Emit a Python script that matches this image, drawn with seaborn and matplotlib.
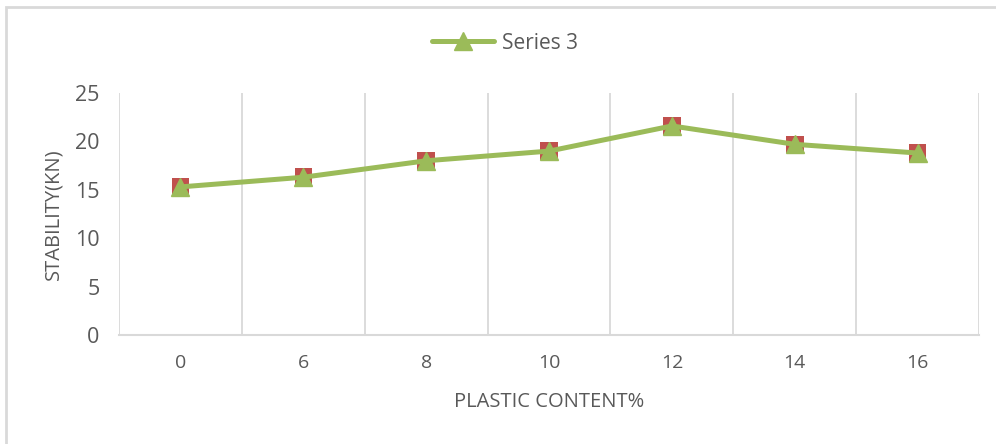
import matplotlib
matplotlib.use("Agg")
import matplotlib.pyplot as plt
import seaborn as sns
import pandas as pd
from matplotlib.lines import Line2D
from matplotlib.patches import Rectangle

categories = ["0", "6", "8", "10", "12", "14", "16"]
stability = [15.3, 16.3, 18.0, 19.0, 21.6, 19.7, 18.8]
yticks = [0, 5, 10, 15, 20, 25]
series_name = "Series 3"
x_label = "PLASTIC CONTENT%"
y_label = "STABILITY(KN)"

df = pd.DataFrame({"content": categories, "stability": stability})

sns.set_theme(style="white")
plt.rcParams["font.family"] = ["Open Sans", "DejaVu Sans"]

GREEN = "#9BBB59"
RED = "#C0504D"
GRID = "#D9D9D9"
TXT = "#595959"

fig = plt.figure(figsize=(9.96, 4.44), dpi=100)
ax = fig.add_axes([0.1195, 0.2455, 0.8635, 0.545])

# red square markers (hidden series) under the green series
sns.scatterplot(data=df, x="content", y="stability", marker="s", s=160,
                color=RED, edgecolor="none", ax=ax, zorder=3, legend=False)
sns.lineplot(data=df, x="content", y="stability", color=GREEN, lw=3.6,
             marker="^", markersize=13, markeredgecolor=GREEN, markeredgewidth=1,
             ax=ax, zorder=4, legend=False, sort=False)

ax.set_xlim(-0.5, len(categories) - 0.5)
ax.set_ylim(0, 25)
ax.set_yticks(yticks)
ax.set_yticklabels([str(t) for t in yticks], fontsize=15.5, color=TXT)
ax.set_xticks(range(len(categories)))
ax.set_xticklabels(categories, fontsize=14, color=TXT)
ax.tick_params(axis="both", length=0)
ax.tick_params(axis="x", pad=14)
ax.tick_params(axis="y", pad=14)

# vertical gridlines at category boundaries
ax.set_xticks([i - 0.5 for i in range(len(categories) + 1)], minor=True)
ax.grid(True, which="minor", axis="x", color=GRID, lw=1.3)
ax.grid(False, which="major")
ax.tick_params(axis="x", which="minor", length=0)

for s in ["top", "right", "left"]:
    ax.spines[s].set_visible(False)
ax.spines["bottom"].set_color(GRID)
ax.spines["bottom"].set_linewidth(1.5)

ax.set_xlabel(x_label, fontsize=14.5, color=TXT, labelpad=14)
ax.set_ylabel(y_label, fontsize=14.5, color=TXT, labelpad=8)

handle = Line2D([], [], color=GREEN, lw=3.6, marker="^", markersize=13,
                markeredgecolor=GREEN, markeredgewidth=1)
fig.legend([handle], [series_name], loc="center", bbox_to_anchor=(0.507, 0.903),
           frameon=False, fontsize=15, handlelength=3.0, handletextpad=0.4,
           labelcolor=TXT)

fig.patches.append(Rectangle((0.006, -0.05), 1.2, 1.035, transform=fig.transFigure,
                             fill=False, edgecolor="#D9D9D9", lw=2, zorder=0))

fig.savefig("out.png", dpi=100)
